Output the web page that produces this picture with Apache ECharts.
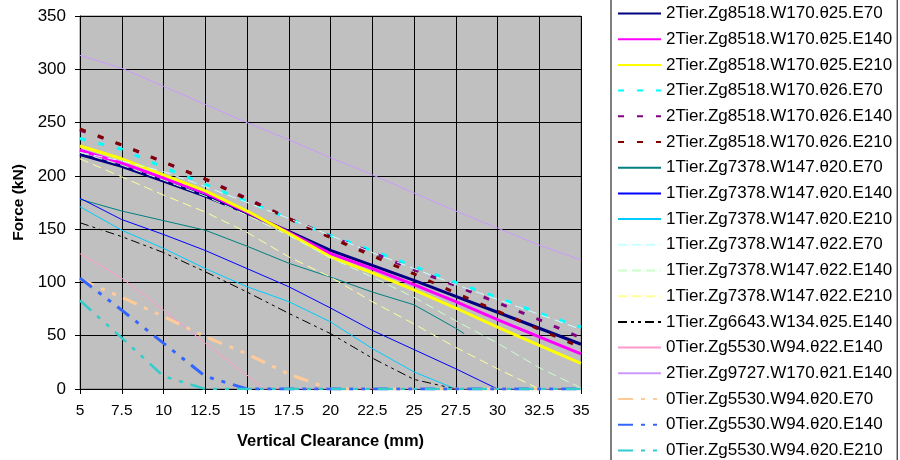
<!DOCTYPE html>
<html><head><meta charset="utf-8">
<script src="https://cdn.jsdelivr.net/npm/echarts@6/dist/echarts.min.js"></script>
<style>html,body{margin:0;padding:0;background:#fff}#c{width:900px;height:460px}</style>
</head><body><div id="c"></div>
<script>
// ---- data ----
const X = [5,7.5,10,12.5,15,17.5,20,22.5,25,27.5,30,32.5,35];
const X_teal = [5,7.5,10,12.5,15,17.5,20,22.5,25,27.5,28];
const X_pink = [5,7.5,10,12.5,15,16,17.5,20,22.5,25,27.5,30,32.5,35];
const xTicks = {min:5, max:35, interval:2.5};
const yTicks = {min:0, max:350, interval:50};

const names = [
 "2Tier.Zg8518.W170.θ25.E70","2Tier.Zg8518.W170.θ25.E140","2Tier.Zg8518.W170.θ25.E210",
 "2Tier.Zg8518.W170.θ26.E70","2Tier.Zg8518.W170.θ26.E140","2Tier.Zg8518.W170.θ26.E210",
 "1Tier.Zg7378.W147.θ20.E70","1Tier.Zg7378.W147.θ20.E140","1Tier.Zg7378.W147.θ20.E210",
 "1Tier.Zg7378.W147.θ22.E70","1Tier.Zg7378.W147.θ22.E140","1Tier.Zg7378.W147.θ22.E210",
 "1Tier.Zg6643.W134.θ25.E140","0Tier.Zg5530.W94.θ22.E140","2Tier.Zg9727.W170.θ21.E140",
 "0Tier.Zg5530.W94.θ20.E70","0Tier.Zg5530.W94.θ20.E140","0Tier.Zg5530.W94.θ20.E210"
];

const s_2T_25_E70  = [220,209,195,181,165,148,130,116,102,87,72,57,42];
const s_2T_25_E140 = [224,212,198,184,166,147,127,113,98,82,65,49,33];
const s_2T_25_E210 = [228,216,201,186,167,146,124,109,93,76,58,41,24];
const s_2T_26_E70  = [235,225,208,192,176,160,144,130,115,100,86,71,58];
const s_2T_26_E140 = [243,229,213,197,179,160,143,128,112,97,81,65,48];
const s_2T_26_E210 = [244,229,213,197,178,160,142,125,108,90,73,56,39];
const s_1T_20_E70  = [178,167,158,149,134,118,105,91,79,57,52];
const s_1T_20_E140 = [179,159,145,130,113,96,76,55,37,19,0,0,0];
const s_1T_20_E210 = [171,149,132,113,96,82,63,38,16,0,0,0,0];
const s_1T_22_E70  = [222,214,204,190,175,160,144,128,113,98,84,70,56];
const s_1T_22_E140 = [222,210,196,181,163,144,123,105,86,64,43,20,1];
const s_1T_22_E210 = [216,199,182,166,147,124,105,82,61,39,19,0,0];
const s_6643_E140  = [156,143,128,110,91,71,52,29,9,0,0,0,0];
const s_0T_22_E140 = [127,104,74,43,13,0,0,0,0,0,0,0,0,0];
const s_9727_E140  = [313,301,284,267,250,234,217,201,184,167,151,135,121];
const s_0T_20_E70  = [103,86,68,49,33,14,0,0,0,0,0,0,0];
const s_0T_20_E140 = [104,74,43,12,0,0,0,0,0,0,0,0,0];
const s_0T_20_E210 = [83,48,12,0,0,0,0,0,0,0,0,0,0];

// ---- styles ----
const DOT = [6,13], LD = [9,5], DDD = [9,4,3,4,3,4], LSS = [15,8,4,8,4,8];
const defs = [
 [X, s_2T_25_E70,  '#000080', 3, 'solid'],
 [X, s_2T_25_E140, '#FF00FF', 3, 'solid'],
 [X, s_2T_25_E210, '#FFFF00', 3, 'solid'],
 [X, s_2T_26_E70,  '#00FFFF', 3, DOT],
 [X, s_2T_26_E140, '#800080', 3, DOT],
 [X, s_2T_26_E210, '#800000', 3, DOT],
 [X_teal, s_1T_20_E70, '#008080', 1, 'solid'],
 [X, s_1T_20_E140, '#0000FF', 1, 'solid'],
 [X, s_1T_20_E210, '#00CCFF', 1, 'solid'],
 [X, s_1T_22_E70,  '#CCFFFF', 1, LD],
 [X, s_1T_22_E140, '#CCFFCC', 1, LD],
 [X, s_1T_22_E210, '#FFFF99', 1, LD],
 [X, s_6643_E140,  '#000000', 1, DDD],
 [X_pink, s_0T_22_E140, '#FF99CC', 1, 'solid'],
 [X, s_9727_E140,  '#CC99FF', 1, 'solid'],
 [X, s_0T_20_E70,  '#FFCC99', 3, LSS],
 [X, s_0T_20_E140, '#3366FF', 3, LSS],
 [X, s_0T_20_E210, '#33CCCC', 2.5, LSS]
];

const series = defs.map((d, i) => ({
  name: names[i], type: 'line', showSymbol: false, symbol: 'none', animation: false,
  data: d[0].map((x, k) => [x, d[1][k]]),
  lineStyle: {color: d[2], width: d[3], type: d[4], cap: 'butt'},
  itemStyle: {color: d[2]}
}));

const FONT = 'Arial, "Liberation Sans", sans-serif';
const chart = echarts.init(document.getElementById('c'), null, {renderer: 'canvas'});
chart.setOption({
  animation: false,
  backgroundColor: '#ffffff',
  grid: {left: 80, right: 319, top: 16, bottom: 71, show: true, backgroundColor: '#C0C0C0', borderColor: '#808080', borderWidth: 1},
  xAxis: {
    type: 'value', min: xTicks.min, max: xTicks.max, interval: xTicks.interval,
    name: 'Vertical Clearance (mm)', nameLocation: 'middle', nameGap: 44,
    nameTextStyle: {fontFamily: FONT, fontSize: 16.5, fontWeight: 'bold', color: '#000'},
    axisLine: {lineStyle: {color: '#000', width: 1}},
    axisTick: {show: true, inside: false, length: 5, lineStyle: {color: '#000'}},
    axisLabel: {fontFamily: FONT, fontSize: 15.5, color: '#000', margin: 14},
    splitLine: {show: true, lineStyle: {color: '#000', width: 1}}
  },
  yAxis: {
    type: 'value', min: yTicks.min, max: yTicks.max, interval: yTicks.interval,
    name: 'Force (kN)', nameLocation: 'middle', nameGap: 51,
    nameTextStyle: {fontFamily: FONT, fontSize: 15.5, fontWeight: 'bold', color: '#000'},
    axisLine: {show: true, lineStyle: {color: '#000', width: 1}},
    axisTick: {show: true, inside: false, length: 5, lineStyle: {color: '#000'}},
    axisLabel: {fontFamily: FONT, fontSize: 17, color: '#000', margin: 14},
    splitLine: {show: true, lineStyle: {color: '#000', width: 1}}
  },
  legend: {
    orient: 'vertical', left: 611, top: -5, height: 520,
    padding: [10, 5, 10, 6],
    itemWidth: 43, itemHeight: 12, itemGap: 8.7,
    borderColor: '#000', borderWidth: 1, backgroundColor: '#fff',
    itemStyle: {opacity: 0},
    textStyle: {fontFamily: FONT, fontSize: 17, color: '#000'},
    data: names
  },
  series: series
});
</script></body></html>
